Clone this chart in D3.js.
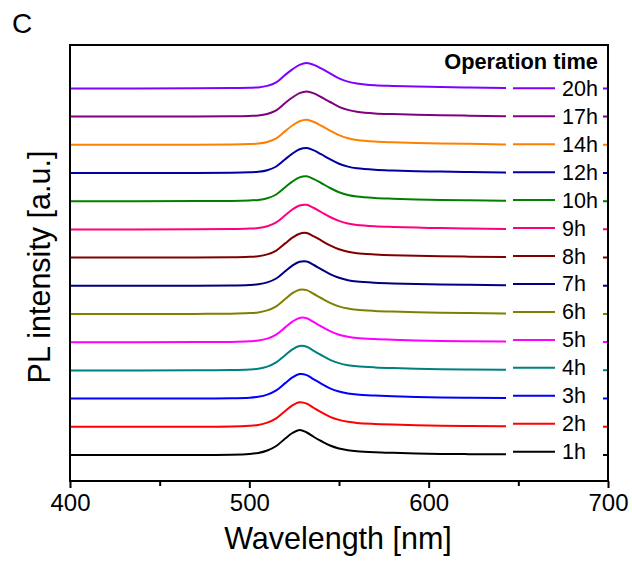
<!DOCTYPE html>
<html>
<head>
<meta charset="utf-8">
<script src="https://cdn.jsdelivr.net/npm/d3@7"></script>
<style>
  body { margin: 0; background: #fff; }
  text { font-family: Arial, "Liberation Sans", sans-serif; fill: #000; }
</style>
</head>
<body>
<script>
// PL spectra vs operation time (panel C)

// wavelength grid [nm]
var wavelengths = [400, 470, 490, 500, 505, 510, 515, 520, 524, 528, 532, 536, 540, 545, 550, 555, 560, 570, 580, 600, 620, 642, 670, 700];

// legend labels, bottom to top
var labels = ["1h", "2h", "3h", "4h", "5h", "6h", "7h", "8h", "9h", "10h", "12h", "14h", "17h", "20h"];
var colors = ["#000000", "#ff0000", "#0000ff", "#008080", "#ff00ff", "#808000", "#000080",
              "#800000", "#ff0080", "#008000", "#0000a0", "#ff8000", "#800080", "#8000ff"];

// intensities (a.u., without stacking offset)
var pl_1h  = [0, 0.1, 0.3, 1.0, 2.0, 4.5, 9.0, 16.5, 22.0, 25.0, 22.5, 18.0, 14.0, 9.5, 6.5, 4.8, 3.8, 2.8, 2.2, 1.3, 0.9, 0.7, 0.4, 0.1];
var pl_2h  = [0, 0.1, 0.3, 1.0, 1.9, 4.2, 8.5, 15.8, 21.5, 24.6, 23.2, 18.8, 14.6, 10.0, 6.9, 5.0, 3.9, 2.9, 2.2, 1.3, 0.9, 0.6, 0.4, 0.1];
var pl_3h  = [0, 0.1, 0.3, 0.9, 1.8, 4.0, 8.2, 15.5, 21.2, 24.5, 23.5, 19.2, 15.0, 10.3, 7.1, 5.1, 4.0, 3.0, 2.3, 1.4, 0.9, 0.6, 0.4, 0.1];
var pl_4h  = [0, 0.1, 0.3, 0.9, 1.7, 3.8, 8.0, 15.2, 21.0, 24.4, 23.7, 19.5, 15.4, 10.6, 7.3, 5.2, 4.1, 3.0, 2.3, 1.4, 0.9, 0.6, 0.4, 0.1];
var pl_5h  = [0, 0.1, 0.3, 0.9, 1.6, 3.6, 7.6, 14.8, 20.6, 24.3, 24.0, 20.0, 15.8, 11.0, 7.5, 5.4, 4.2, 3.1, 2.4, 1.4, 1.0, 0.6, 0.4, 0.1];
var pl_6h  = [0, 0.1, 0.3, 0.9, 1.6, 3.6, 7.7, 15.0, 20.8, 24.3, 23.9, 20.0, 16.0, 11.2, 7.6, 5.4, 4.2, 3.1, 2.4, 1.4, 1.0, 0.5, 0.3, 0.1];
var pl_7h  = [0, 0.1, 0.3, 0.8, 1.5, 3.4, 7.3, 14.5, 20.2, 24.0, 24.4, 20.8, 16.6, 11.7, 8.0, 5.6, 4.3, 3.1, 2.4, 1.5, 1.0, 0.5, 0.3, 0.1];
var pl_8h  = [0, 0.1, 0.3, 0.8, 1.4, 3.2, 7.0, 14.2, 19.9, 23.9, 24.6, 21.2, 17.2, 12.2, 8.3, 5.8, 4.4, 3.2, 2.4, 1.5, 1.0, 0.5, 0.3, 0.1];
var pl_9h  = [0, 0.1, 0.3, 0.8, 1.4, 3.2, 7.0, 14.2, 19.9, 23.9, 24.6, 21.4, 17.4, 12.4, 8.5, 5.9, 4.5, 3.2, 2.5, 1.5, 1.0, 0.5, 0.3, 0.1];
var pl_10h = [0, 0.1, 0.3, 0.8, 1.3, 3.0, 6.7, 14.0, 19.6, 23.8, 24.9, 22.0, 18.2, 13.2, 9.0, 6.2, 4.6, 3.2, 2.5, 1.5, 1.0, 0.4, 0.2, 0.0];
var pl_12h = [0, 0.1, 0.3, 0.7, 1.2, 2.8, 6.5, 13.8, 19.4, 23.7, 25.1, 22.6, 18.8, 13.8, 9.3, 6.4, 4.7, 3.2, 2.5, 1.6, 1.0, 0.4, 0.2, 0.0];
var pl_14h = [0, 0.1, 0.3, 0.7, 1.2, 2.8, 6.4, 13.7, 19.3, 23.6, 25.1, 22.8, 19.2, 14.2, 9.6, 6.5, 4.8, 3.2, 2.5, 1.6, 1.0, 0.4, 0.2, 0.0];
var pl_17h = [0, 0.1, 0.3, 0.7, 1.1, 2.6, 6.2, 13.6, 19.1, 23.5, 25.2, 23.2, 19.6, 14.6, 9.8, 6.7, 4.9, 3.2, 2.5, 1.6, 1.0, 0.3, 0.1, 0.0];
var pl_20h = [0, 0.1, 0.3, 0.7, 1.0, 2.5, 6.0, 13.5, 19.0, 23.5, 25.3, 23.5, 20.0, 15.0, 10.0, 6.8, 5.0, 3.2, 2.5, 1.6, 1.0, 0.3, 0.1, 0.0];

var spectra = [pl_1h, pl_2h, pl_3h, pl_4h, pl_5h, pl_6h, pl_7h, pl_8h, pl_9h, pl_10h, pl_12h, pl_14h, pl_17h, pl_20h];
var offset_step = 28.2; // vertical stacking offset (a.u.)

var x_ticks = [400, 500, 600, 700];
var x_minor = [450, 550, 650];

window.onload = function() {
  drawchart();
};

function drawchart() {
  var w_svg = 632;
  var h_svg = 565;

  // plot frame
  var left = 70, right = 608, top = 45, bottom = 481;

  var svg = d3.select("body")
              .append("svg")
              .attr("width", w_svg)
              .attr("height", h_svg);

  var xScale = d3.scaleLinear().domain([400, 700]).range([left, right]);
  var yScale = d3.scaleLinear().domain([-26, 410]).range([bottom, top]);

  var line = d3.line()
               .x(function(d) { return xScale(d[0]); })
               .y(function(d) { return yScale(d[1]); })
               .curve(d3.curveCatmullRom.alpha(0.5));

  // curves
  svg.append("clipPath").attr("id", "clip")
     .append("rect")
     .attr("x", left).attr("y", top)
     .attr("width", right - left).attr("height", bottom - top);

  var g_curves = svg.append("g").attr("clip-path", "url(#clip)");
  for (var i = 0; i < spectra.length; i++) {
    var pts = [];
    for (var j = 0; j < wavelengths.length; j++) {
      pts.push([wavelengths[j], spectra[i][j] + i * offset_step]);
    }
    g_curves.append("path")
      .attr("d", line(pts))
      .attr("fill", "none")
      .attr("stroke", colors[i])
      .attr("stroke-width", 2);
  }

  // legend (white box hides the curve tails)
  svg.append("rect")
     .attr("x", 506).attr("y", 48)
     .attr("width", 97).attr("height", 420)
     .attr("fill", "#fff");

  var legY = d3.scalePoint().domain(labels).range([451.7, 88.3]);

  svg.append("text")
     .attr("x", 598).attr("y", 68.5)
     .attr("text-anchor", "end")
     .attr("font-weight", "bold")
     .attr("font-size", 21.8)
     .text("Operation time");

  for (var k = 0; k < labels.length; k++) {
    var ly = legY(labels[k]);
    svg.append("line")
       .attr("x1", 513).attr("x2", 555)
       .attr("y1", ly).attr("y2", ly)
       .attr("stroke", colors[k])
       .attr("stroke-width", 2);
    svg.append("text")
       .attr("x", 562).attr("y", ly + 7.5)
       .attr("font-size", 21.5)
       .text(labels[k]);
  }

  // x axis with outward ticks
  var x_axis = d3.axisBottom(xScale).tickValues(x_ticks).tickSize(7).tickPadding(6).tickFormat(d3.format("d"));
  var gx = svg.append("g").attr("transform", "translate(0," + bottom + ")").call(x_axis);
  gx.select(".domain").remove();
  gx.selectAll(".tick line").attr("stroke", "#000").attr("stroke-width", 2);
  gx.selectAll(".tick text").attr("font-size", 24).attr("font-family", "Arial, 'Liberation Sans', sans-serif");

  var x_axis_minor = d3.axisBottom(xScale).tickValues(x_minor).tickSize(5).tickFormat("");
  var gxm = svg.append("g").attr("transform", "translate(0," + bottom + ")").call(x_axis_minor);
  gxm.select(".domain").remove();
  gxm.selectAll(".tick line").attr("stroke", "#000").attr("stroke-width", 2);

  // frame
  svg.append("rect")
     .attr("x", left).attr("y", top)
     .attr("width", right - left).attr("height", bottom - top)
     .attr("fill", "none")
     .attr("stroke", "#000")
     .attr("stroke-width", 2);

  // labels
  svg.append("text")
     .attr("x", 338).attr("y", 549)
     .attr("text-anchor", "middle")
     .attr("font-size", 30.5)
     .text("Wavelength [nm]");

  svg.append("text")
     .attr("transform", "translate(50,267) rotate(-90)")
     .attr("text-anchor", "middle")
     .attr("font-size", 30.5)
     .text("PL intensity [a.u.]");

  svg.append("text")
     .attr("x", 12).attr("y", 32.5)
     .attr("font-size", 28)
     .text("C");
}
</script>
</body>
</html>
